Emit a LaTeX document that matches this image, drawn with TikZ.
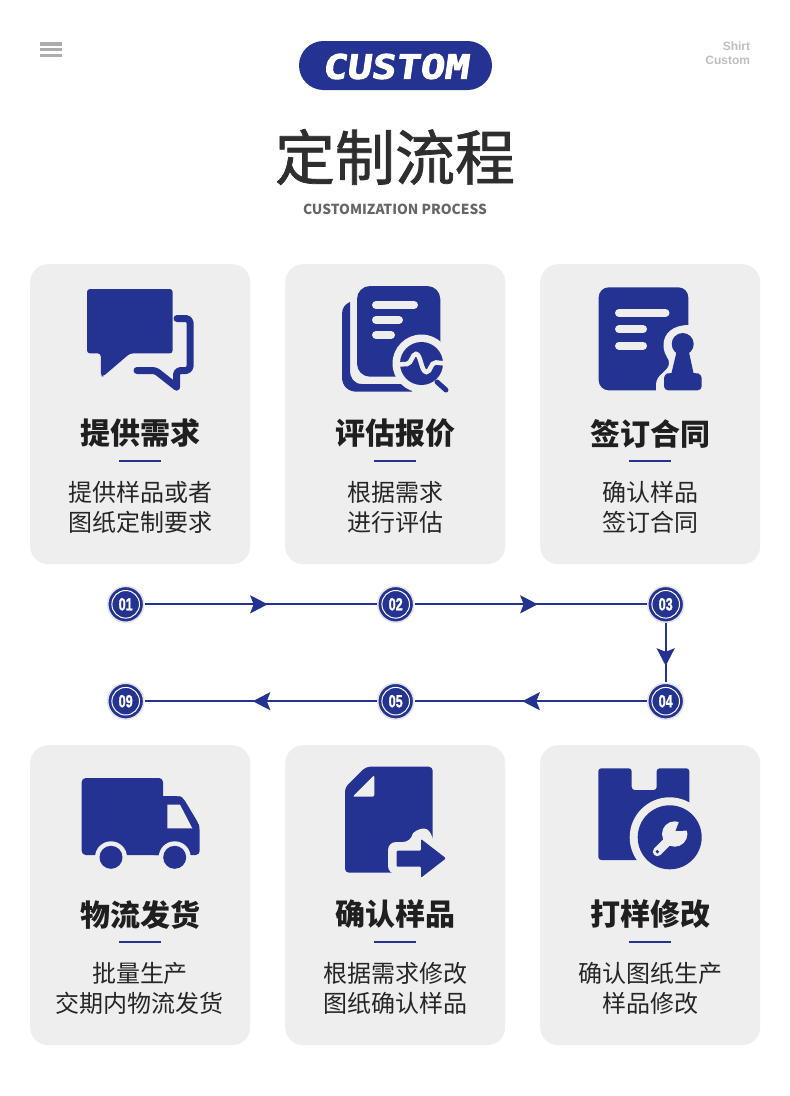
\documentclass[tikz,border=0pt]{standalone}
\usepackage{fontspec}
\usetikzlibrary{arrows.meta,decorations.markings}
\setmainfont{Noto Sans CJK SC}
\newfontfamily\cjk{Noto Sans CJK SC}
\newfontfamily\cjkmed[FakeBold=1.2]{Noto Sans CJK SC}
\newfontfamily\lat{Liberation Sans}
\newfontfamily\numfont[FakeBold=1.5]{Liberation Sans Bold}
\newfontfamily\blockfont[FakeBold=2.5,FakeSlant=0.12]{DejaVu Sans Mono Bold}
\definecolor{brand}{HTML}{243392}
\definecolor{panel}{HTML}{EEEEEE}
\definecolor{halo}{HTML}{E6E3EC}
\tikzset{
  x=1pt,y=-1pt,
  card/.style={fill=panel,rounded corners=18pt,minimum width=220pt,minimum height=300pt,inner sep=0pt,anchor=north west},
  cardtitle/.style={font=\cjk\bfseries\fontsize{30}{30}\selectfont,text=black!88,inner sep=0pt,anchor=center},
  carddesc/.style={font=\cjk\fontsize{24}{30}\selectfont,text=black!85,inner sep=0pt,anchor=center,align=center},
  rulebar/.style={fill=brand,minimum width=42pt,minimum height=2.8pt,inner sep=0pt},
  numnode/.style={circle,fill=brand,draw=halo,line width=1.6pt,minimum size=36pt,inner sep=0pt,outer sep=.8pt,text=white,
    font=\numfont\fontsize{17.5}{17.5}\selectfont,
    path picture={\draw[white,line width=1pt] (path picture bounding box.center) circle (13.8pt);}},
  flow/.style={brand,line width=2.1pt,postaction={decorate},decoration={markings,mark=at position #1 with {\arrow{Stealth[length=17.5pt,width=18pt,inset=3.5pt]}}}},
  ink/.style={fill=brand,draw=none},
  cut/.style={fill=panel,draw=none},
  hbar/.style={fill=black!32,draw=none},
  txtbar/.style={line width=8pt,line cap=round,panel}
}
\newcommand{\cnum}[1]{\scalebox{.72}[1]{#1}}
\begin{document}
\begin{tikzpicture}
\useasboundingbox (0,0) rectangle (790,1096);
\fill[white] (0,0) rectangle (790,1096);
% header
\fill[hbar] (40,42) rectangle (62,45.6);
\fill[hbar] (40,48) rectangle (62,51.4);
\fill[hbar] (40,54) rectangle (62,57.4);
\node[fill=brand,rounded corners=24.5pt,minimum width=193pt,minimum height=49pt,inner sep=0pt] (pill) at (395.5,65.5) {};
\node[inner sep=0pt,text=white] (customword) at (395,66.5) {\resizebox{146pt}{25pt}{\blockfont CUSTOM}};
\node[inner sep=0pt,anchor=east,text=black!25,font=\lat\bfseries\fontsize{12}{14}\selectfont] (shirt) at (750.3,46) {Shirt};
\node[inner sep=0pt,anchor=east,text=black!25,font=\lat\bfseries\fontsize{12}{14}\selectfont] (custom) at (750.3,60) {Custom};
\node[inner sep=0pt,text=black!82,font=\cjkmed\fontsize{60}{60}\selectfont] (maintitle) at (395,157) {定制流程};
\node[inner sep=0pt,text=black!60,font=\cjk\bfseries\fontsize{13.8}{14}\selectfont] (subtitle) at (395,209) {CUSTOMIZATION PROCESS};
% cards
\foreach \n/\cx/\cy/\t/\da/\db in {
 a/30/264/提供需求/提供样品或者/图纸定制要求,
 b/285/264/评估报价/根据需求/进行评估,
 c/540/264/签订合同/确认样品/签订合同,
 d/30/745/物流发货/批量生产/交期内物流发货,
 e/285/745/确认样品/根据需求修改/图纸确认样品,
 f/540/745/打样修改/确认图纸生产/样品修改}{
  \node[card] (card\n) at (\cx,\cy) {};
  \node[cardtitle] (title\n) at ([xshift=110pt,yshift=-169.5pt]card\n.north west) {\t};
  \node[rulebar] (rule\n) at ([xshift=110pt,yshift=-197pt]card\n.north west) {};
  \node[carddesc] (desca\n) at ([xshift=110pt,yshift=-228pt]card\n.north west) {\da};
  \node[carddesc] (descb\n) at ([xshift=110pt,yshift=-258pt]card\n.north west) {\db};
}
% icon 1: speech bubbles
\fill[ink,rounded corners=3pt] (87,289) -- (172.7,289) -- (172.7,353.4) -- (130,353.4) -- (103,376.5) -- (100.8,376) -- (100.8,353.4) -- (87,353.4) -- cycle;
\draw[brand,line width=7pt,line cap=round,line join=round,rounded corners=4pt] (177,318.5) -- (190,318.5) -- (190,370.5) -- (176.5,370.5) -- (176.5,387);
\draw[brand,line width=7pt,line cap=round,line join=round,rounded corners=3pt] (176.5,387) -- (155.5,370.5) -- (137,370.5);
% icon 2: documents and lens
\fill[ink] (350,302) .. controls (345,304) and (342,308) .. (342,314) -- (342,377) .. controls (342,386) and (348,391.7) .. (357,391.7) -- (412,391.7) -- (412,384) -- (362,384) .. controls (354,384) and (350,378) .. (350,370) -- cycle;
\fill[ink,rounded corners=13pt] (357,286) rectangle (440.3,376.7);
\draw[txtbar] (376,305) -- (414,305);
\draw[txtbar] (376,320) -- (399,320);
\draw[txtbar] (376,335) -- (391,335);
\fill[cut] (421.5,363.5) circle (29);
\fill[ink] (421.5,363.5) circle (21.5);
\draw[brand,line width=5pt,line cap=round] (437,382) -- (446,390);
\draw[panel,line width=4.6pt] (398,364.5) -- (407,364) .. controls (412,363) and (412,354) .. (416,354) .. controls (421,354) and (421,372) .. (426.5,372) .. controls (431,372) and (430,362.5) .. (436,362.5) -- (445,363.5);
% icon 3: document and stamp
\fill[ink,rounded corners=10pt] (598.7,287.3) rectangle (688.3,390.3);
\draw[txtbar] (619,313) -- (665.5,313);
\draw[txtbar] (619,329.3) -- (643,329.3);
\draw[txtbar] (619,345.7) -- (643,345.7);
\fill[cut] (689,325) .. controls (672,325) and (663.5,334) .. (663.5,345) .. controls (663.5,356) and (670,358) .. (669,364) .. controls (668,372) and (656,374) .. (656,385) -- (656,391) -- (705,391) -- (705,325) -- cycle;
\fill[ink] (682.7,344) circle (11);
\fill[ink] (677,350) -- (688.5,350) -- (693.5,373) -- (671.5,373) -- cycle;
\fill[ink,rounded corners=4pt] (664,390.3) -- (664,374) -- (670,373) -- (695,373) -- (701.7,374) -- (701.7,390.3) -- cycle;
% icon 4: truck
\fill[ink,rounded corners=4pt] (81.7,778) rectangle (163,855);
\fill[ink,rounded corners=4pt] (150,796) -- (179,796) -- (183,797.5) -- (198.5,823.5) -- (199.7,828) -- (199.7,855) -- (150,855) -- cycle;
\fill[cut] (167.3,804.7) -- (180,804.7) -- (192.3,828.3) -- (167.3,828.3) -- cycle;
\fill[cut] (111,857.3) circle (16);
\fill[cut] (174.7,857.3) circle (16);
\fill[ink] (111,857.3) circle (11.5);
\fill[ink] (174.7,857.3) circle (11.5);
% icon 5: file and arrow
\fill[ink,rounded corners=4pt] (366,766.7) -- (432.7,766.7) -- (432.7,872.7) -- (345,872.7) -- (345,787.5) -- cycle;
\fill[cut,rounded corners=2pt] (374.3,775) -- (374.3,796.7) -- (352.7,796.7) -- cycle;
\fill[cut,rounded corners=8pt] (388,842) -- (411,842) .. controls (413,832) and (424,825) .. (434,837) -- (434,874) -- (388,874) -- cycle;
\fill[panel] (393,860) rectangle (436,875);
\fill[ink,rounded corners=1pt] (396.7,850.7) -- (421,850.7) -- (421,839) -- (446,858.3) -- (421,877.7) -- (421,866.7) -- (396.7,866.7) -- cycle;
% icon 6: box and wrench
\fill[ink,rounded corners=3pt] (598.3,768.3) -- (631.7,768.3) -- (631.7,790) -- (656.7,790) -- (656.7,768.3) -- (689.3,768.3) -- (689.3,860) -- (598.3,860) -- cycle;
\fill[cut] (669.7,837.3) circle (40);
\fill[ink] (669.7,837.3) circle (32);
\fill[panel] (674.7,834) circle (12.7);
\draw[panel,line width=9pt,line cap=round] (673,836) -- (657.3,851.7);
\fill[brand] (675.5,831) -- (680,819) -- (690,819) -- (690,830.5) -- cycle;
\fill[brand] (657.3,851.7) circle (1.8);
% flow
\node[numnode] (n1) at (125.7,604.3) {\cnum{01}};
\node[numnode] (n2) at (395.7,604.3) {\cnum{02}};
\node[numnode] (n3) at (665.7,604.3) {\cnum{03}};
\node[numnode] (n4) at (665.7,701.2) {\cnum{04}};
\node[numnode] (n5) at (395.7,701.2) {\cnum{05}};
\node[numnode] (n9) at (125.7,701.2) {\cnum{09}};
\draw[flow=.53] (n1) -- (n2);
\draw[flow=.53] (n2) -- (n3);
\draw[flow=.72] (n3) -- (n4);
\draw[flow=.536] (n4) -- (n5);
\draw[flow=.534] (n5) -- (n9);
\end{tikzpicture}
\end{document}
